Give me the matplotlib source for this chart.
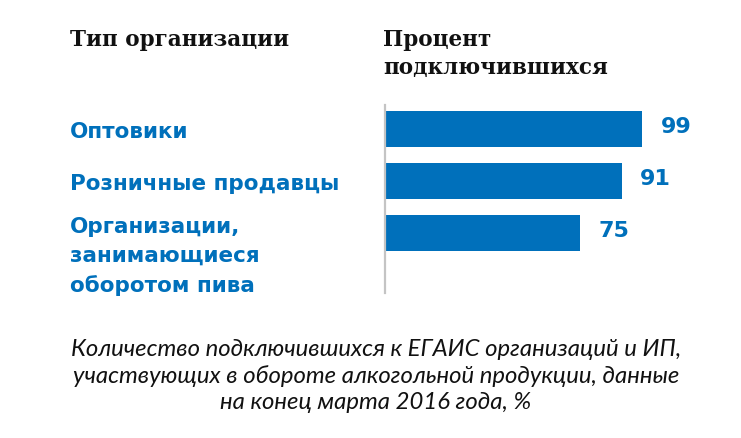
import matplotlib
matplotlib.use("Agg")
import matplotlib.pyplot as plt
import matplotlib.transforms as mtransforms

categories = ["Оптовики", "Розничные продавцы", "Организации,\nзанимающиеся\nоборотом пива"]
values = [99, 91, 75]
value_labels = ["99", "91", "75"]
header_left = "Тип организации"
header_right = "Процент\nподключившихся"
caption = ("Количество подключившихся к ЕГАИС организаций и ИП,\n"
           "участвующих в обороте алкогольной продукции, данные\n"
           "на конец марта 2016 года, %")

BLUE = "#0070BB"
W, H = 741, 439
fig = plt.figure(figsize=(W / 100, H / 100), dpi=100)
fig.patch.set_facecolor("white")

ax = fig.add_axes([385 / W, 1 - 294 / H, 260 / W, 188 / H])
ypos = list(range(len(values)))
ax.barh(ypos, values, height=0.69, color=BLUE, zorder=2)
ax.set_xlim(0, 100)
ax.set_ylim(3.15, -0.46)
for s in ["top", "right", "bottom"]:
    ax.spines[s].set_visible(False)
ax.spines["left"].set_color("#c4c4c4")
ax.spines["left"].set_linewidth(1.6)
ax.set_xticks([])
ax.set_yticks([])

for y, v, lab in zip(ypos, values, value_labels):
    ax.annotate(lab, (v, y), xytext=(13, 2), textcoords="offset points",
                ha="left", va="center", color=BLUE, fontsize=16,
                fontweight="bold", family="DejaVu Sans")

trans = mtransforms.blended_transform_factory(fig.transFigure, ax.transData)
for y, cat in zip(ypos, categories):
    if "\n" in cat:
        fig.text(70 / W, y - 0.33, cat, transform=trans, ha="left", va="top",
                 color=BLUE, fontsize=15.5, fontweight="bold", family="DejaVu Sans",
                 linespacing=1.55)
    else:
        fig.text(70 / W, y + 0.15, cat, transform=trans, ha="left", va="baseline",
                 color=BLUE, fontsize=15.5, fontweight="bold", family="DejaVu Sans")

fig.text(70 / W, 1 - 40 / H, header_left, ha="left", va="center",
         fontsize=15.5, fontweight="bold", family="DejaVu Serif", color="#111111")
fig.text(383 / W, 1 - 54 / H, header_right, ha="left", va="center",
         fontsize=15.5, fontweight="bold", family="DejaVu Serif", color="#111111",
         linespacing=1.3)

fig.text(376 / W, 1 - 376 / H, caption, ha="center", va="center",
         fontsize=17.2, style="italic", family="Lato", color="#111111",
         linespacing=1.3)

fig.savefig("out.png", dpi=100, facecolor="white")
